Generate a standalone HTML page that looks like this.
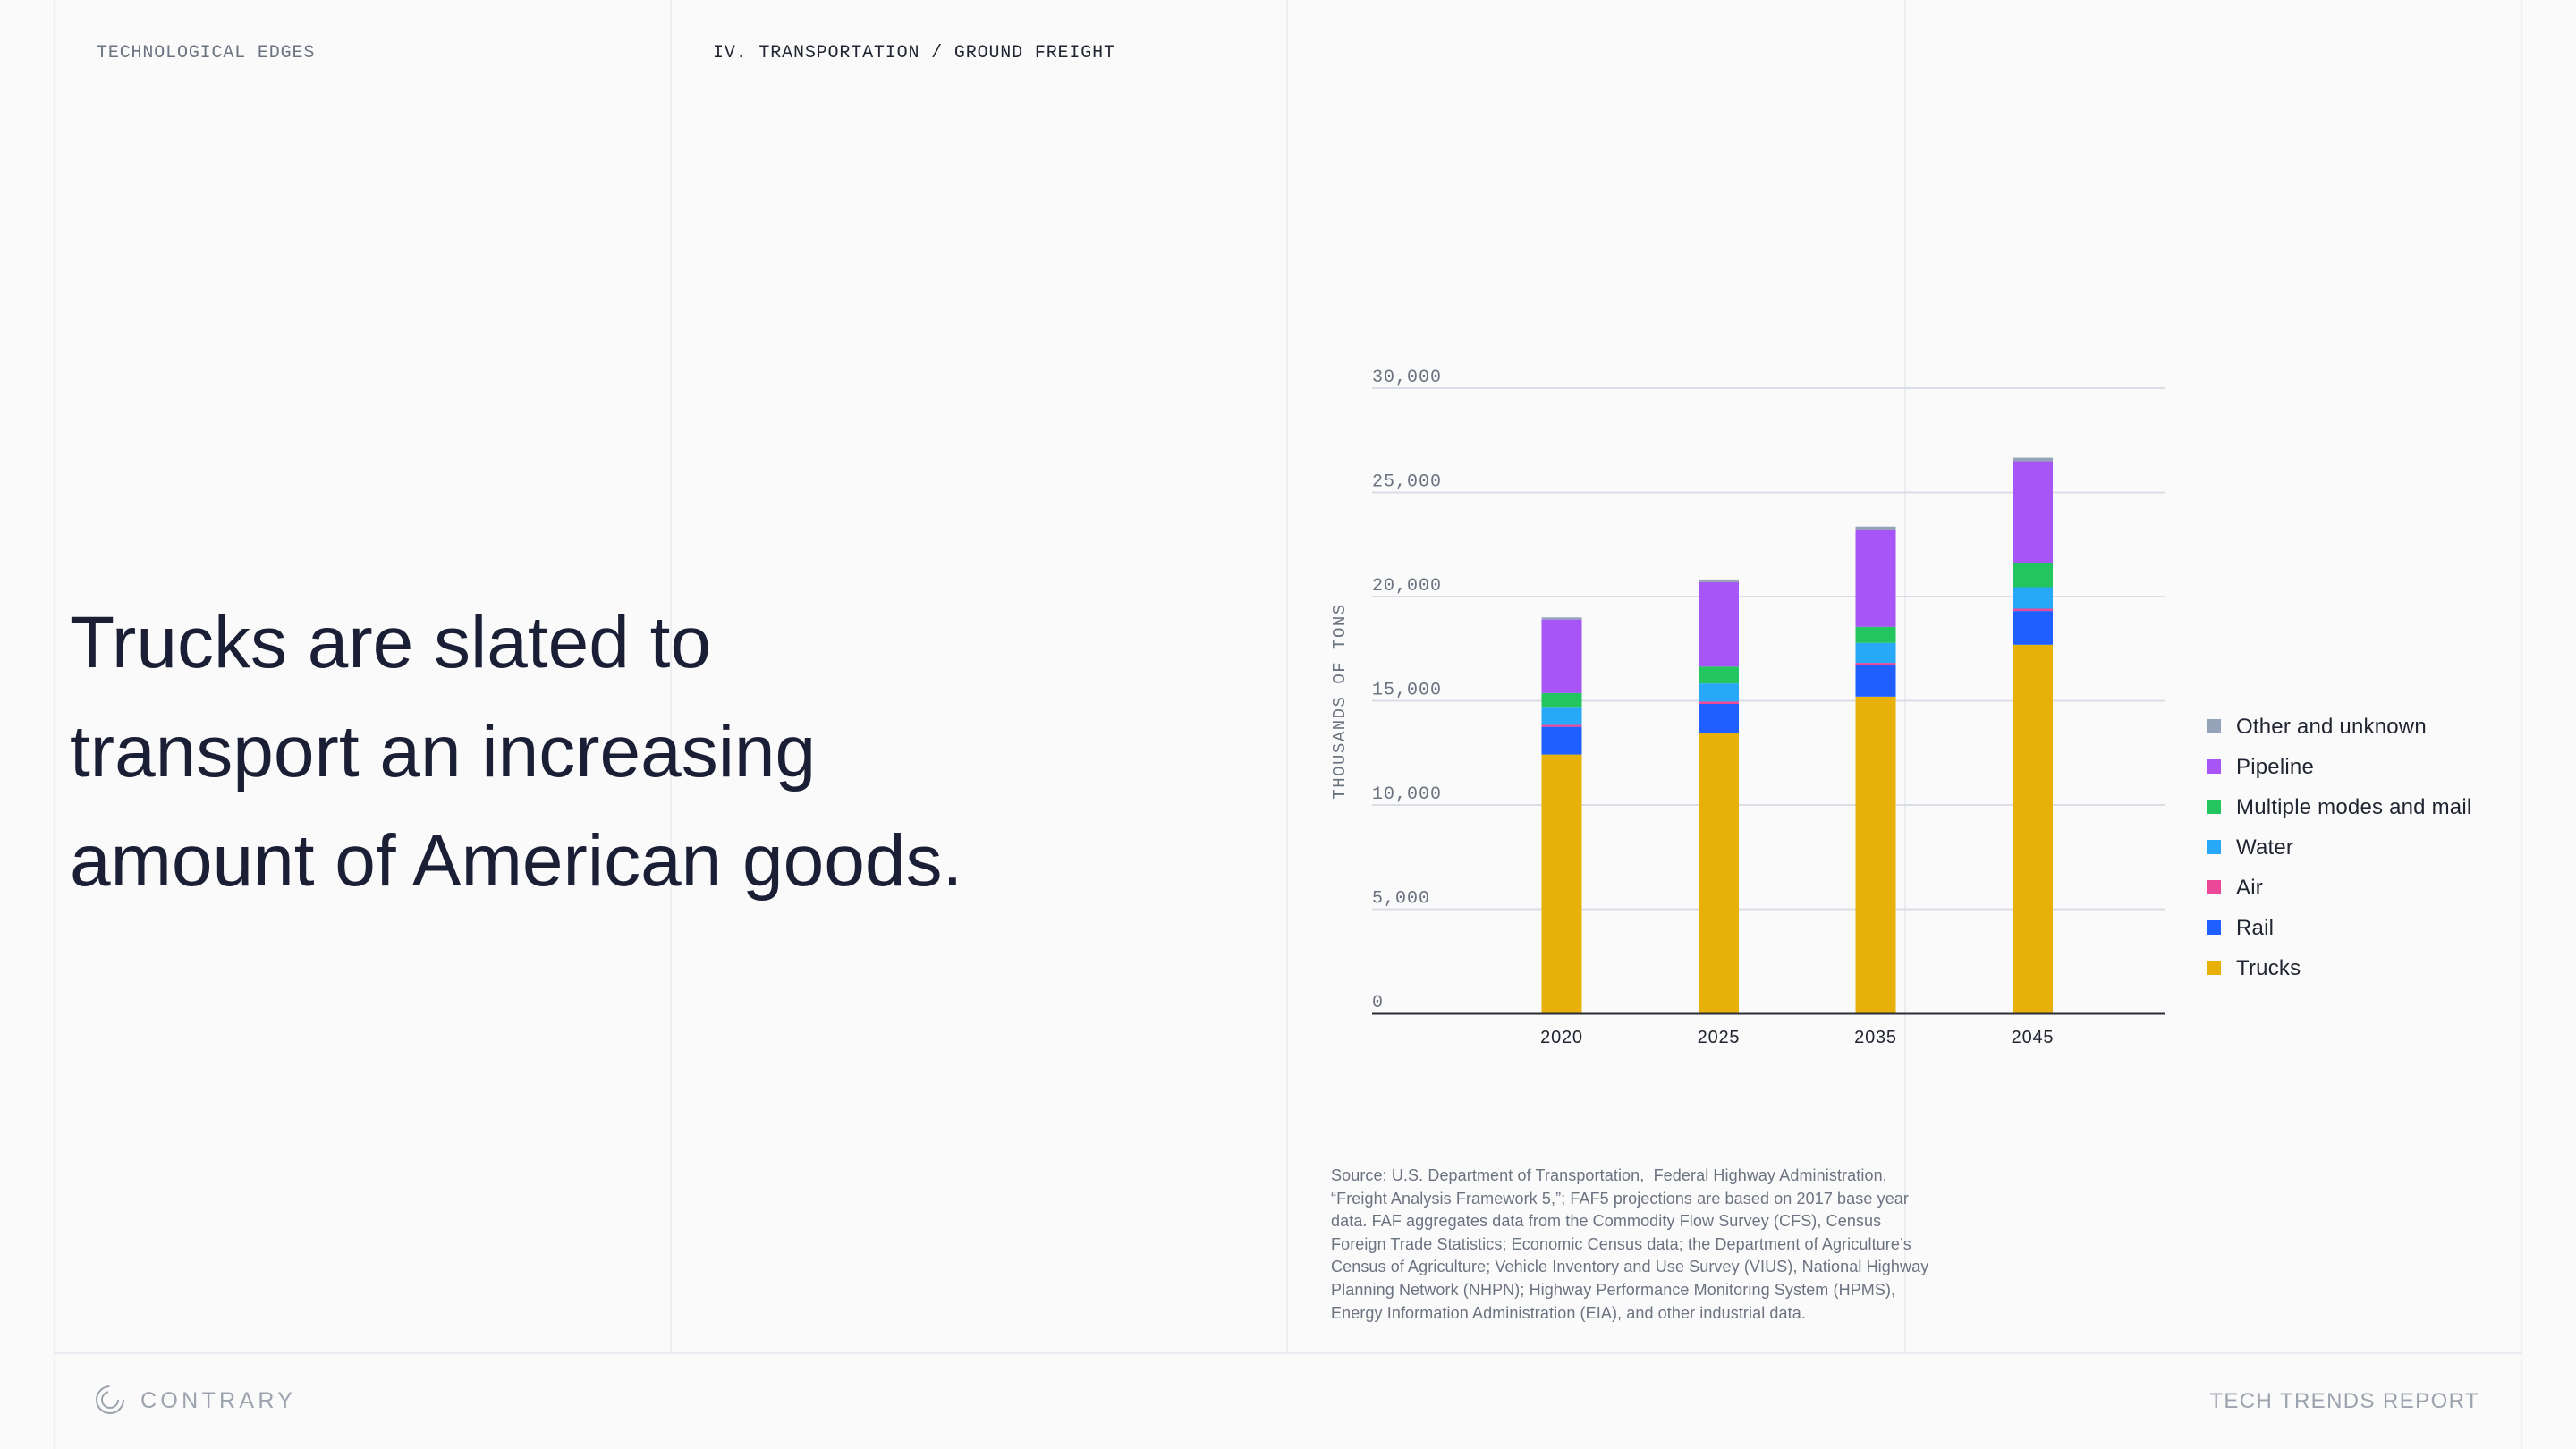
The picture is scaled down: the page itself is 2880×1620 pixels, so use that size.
<!DOCTYPE html>
<html><head><meta charset="utf-8"><style>
html,body{margin:0;padding:0;background:#fafafa;}
body{width:2880px;height:1620px;position:relative;overflow:hidden;font-family:"Liberation Sans",sans-serif;}
.vl{position:absolute;top:0;width:2px;height:1512px;background:#eceef2;}
.mono{font-family:"Liberation Mono",monospace;}
</style></head><body>
<div class="vl" style="left:60px;height:1620px"></div>
<div class="vl" style="left:749px"></div>
<div class="vl" style="left:1438px"></div>
<div class="vl" style="left:2129px"></div>
<div class="vl" style="left:2818px;height:1620px"></div>
<div style="position:absolute;left:60px;top:1511px;width:2760px;height:3px;background:#e8ebf0"></div>

<div class="mono" style="position:absolute;left:108px;top:48px;font-size:20px;letter-spacing:0.85px;color:#6b7280">TECHNOLOGICAL EDGES</div>
<div class="mono" style="position:absolute;left:797px;top:48px;font-size:20px;letter-spacing:0.85px;color:#1f2430">IV. TRANSPORTATION / GROUND FREIGHT</div>

<div style="position:absolute;left:78px;top:658px;font-size:82px;line-height:122px;color:#1a1f36">Trucks are slated to<br>transport an increasing<br>amount of American goods.</div>

<svg id="chart" style="position:absolute;left:0;top:0" width="2880" height="1620"></svg>

<div style="position:absolute;left:1488px;top:1302px;font-size:18px;line-height:25.6px;color:#6b7280;width:740px;letter-spacing:0.1px">Source: U.S. Department of Transportation,&nbsp; Federal Highway Administration,<br>“Freight Analysis Framework 5,”; FAF5 projections are based on 2017 base year<br>data. FAF aggregates data from the Commodity Flow Survey (CFS), Census<br>Foreign Trade Statistics; Economic Census data; the Department of Agriculture’s<br>Census of Agriculture; Vehicle Inventory and Use Survey (VIUS), National Highway<br>Planning Network (NHPN); Highway Performance Monitoring System (HPMS),<br>Energy Information Administration (EIA), and other industrial data.</div>

<svg style="position:absolute;left:106px;top:1547px" width="34" height="36"><circle cx="17" cy="18" r="15" fill="none" stroke="#9ca3af" stroke-width="2" stroke-dasharray="70 25"/><circle cx="17" cy="18" r="9" fill="none" stroke="#9ca3af" stroke-width="2" stroke-dasharray="40 17"/></svg>
<div style="position:absolute;left:157px;top:1552px;font-size:25px;letter-spacing:4.3px;color:#9ca3af">CONTRARY</div>
<div style="position:absolute;right:108px;top:1553px;font-size:24px;letter-spacing:1.4px;color:#9ca3af">TECH TRENDS REPORT</div>

<script>
const categories = ["2020","2025","2035","2045"];
const seriesNames = ["Trucks","Rail","Air","Water","Multiple modes and mail","Pipeline","Other and unknown"];
const trucks = [12420,13470,15200,17690];
const rail = [1330,1380,1510,1620];
const air = [90,110,110,110];
const water = [870,870,960,1030];
const multi = [660,810,770,1140];
const pipeline = [3530,4050,4640,4910];
const other = [100,130,170,170];
const yTicks = [0,5000,10000,15000,20000,25000,30000];
const tickLabels = ["0","5,000","10,000","15,000","20,000","25,000","30,000"];
const colors = ["#e8b10a","#1f5fff","#ec4899","#27a8f8","#22c55e","#a855f7","#94a3b8"];
const series = [trucks,rail,air,water,multi,pipeline,other];

const svg = document.getElementById('chart');
const NS = 'http://www.w3.org/2000/svg';
const X0=1534, X1=2421, Y0=1133, YTOP=434, YMAX=30000;
const y = v => Y0 - (v/YMAX)*(Y0-YTOP);
const xCenter = i => 1746 + i*175.5;
const BW = 45;
function mk(tag, attrs){const e=document.createElementNS(NS,tag);for(const k in attrs)e.setAttribute(k,attrs[k]);svg.appendChild(e);return e;}

yTicks.forEach((t,i)=>{
  if(t>0){const g=mk('line',{x1:X0,x2:X1,y1:y(t),y2:y(t),stroke:'#d9dde6','stroke-width':2});
  
  }
  const tx=mk('text',{x:X0,y:y(t)-7,'font-family':'Liberation Mono, monospace','font-size':20,'letter-spacing':1,fill:'#6b7280'});
  tx.textContent=tickLabels[i];
  
  
});
const yt=mk('text',{x:0,y:0,transform:'translate(1503,784) rotate(-90)','text-anchor':'middle','font-family':'Liberation Mono, monospace','font-size':19,fill:'#6b7280','letter-spacing':1.5});
yt.textContent='THOUSANDS OF TONS';



categories.forEach((c,i)=>{
  let acc=0;
  series.forEach((s,k)=>{
    const r=mk('rect',{x:xCenter(i)-BW/2,y:y(acc+s[i]),width:BW,height:y(acc)-y(acc+s[i]),fill:colors[k]});
    
    
    acc+=s[i];
  });
  const l=mk('text',{x:xCenter(i),y:1166,'text-anchor':'middle','font-size':20,'letter-spacing':0.8,fill:'#1f2430'});
  l.textContent=c;
  
  
});
const base=mk('line',{x1:X0,x2:X1,y1:Y0,y2:Y0,stroke:'#2a2e38','stroke-width':3});



for(let k=seriesNames.length-1;k>=0;k--){
  const row=seriesNames.length-1-k;
  const yy=812+row*45;
  const sq=mk('rect',{x:2467,y:yy-8,width:16,height:16,fill:colors[k]});
  
  
  const t=mk('text',{x:2500,y:yy+8,'font-size':24,'letter-spacing':0.2,fill:'#1f2430'});
  t.textContent=seriesNames[k];
  
  
}
</script>
</body></html>
